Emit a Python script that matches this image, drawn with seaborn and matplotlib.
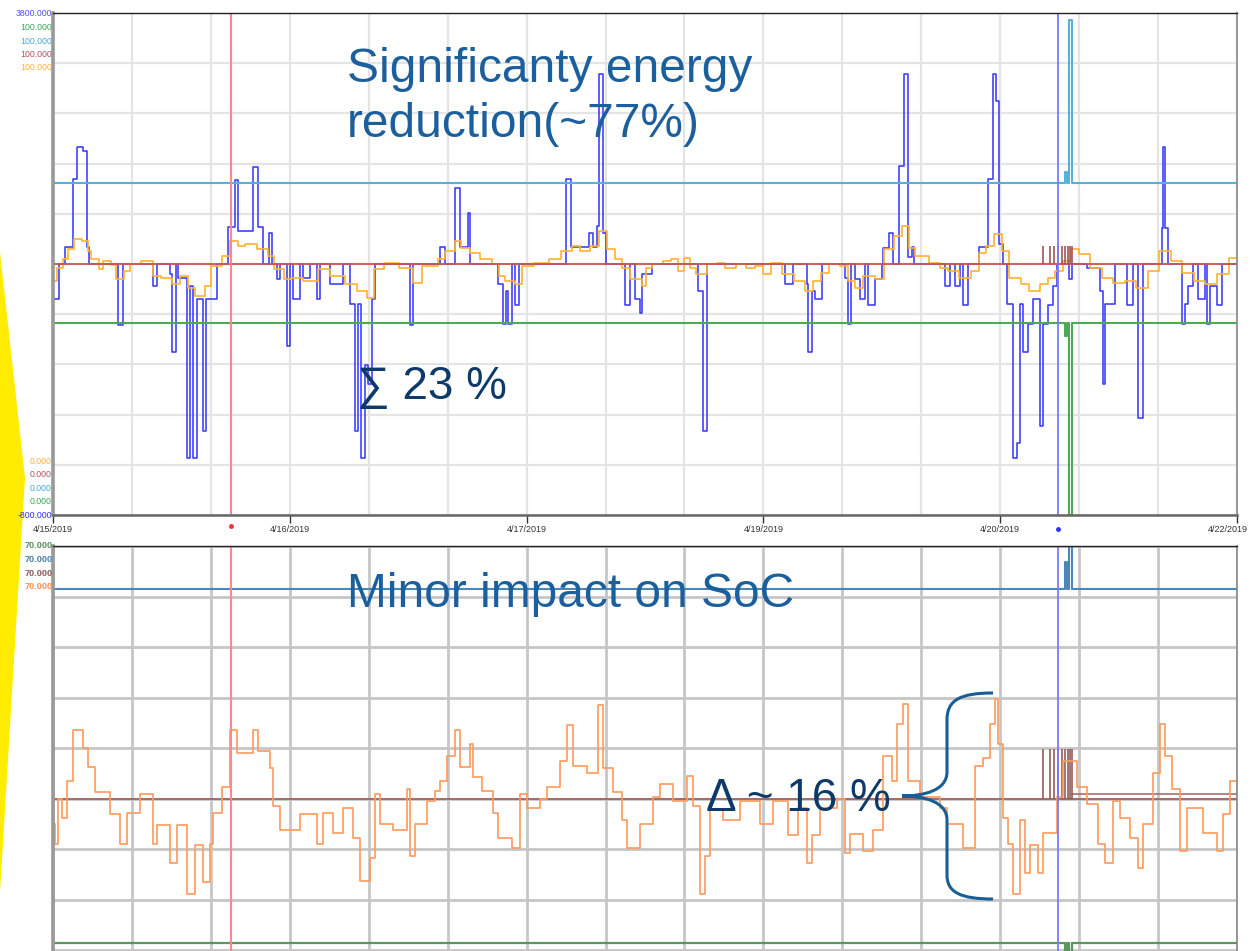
import numpy as np
import pandas as pd
import matplotlib
matplotlib.use("Agg")
import matplotlib.pyplot as plt
import matplotlib.transforms as mtransforms
from matplotlib.patches import Polygon, PathPatch
from matplotlib.path import Path
import seaborn as sns

# ---------------- data (x = hours since 4/15/2019 00:00) ----------------
tick_hours = [0, 33.6, 67.2, 100.8, 134.4, 168]
tick_labels = ["4/15/2019", "4/16/2019", "4/17/2019", "4/19/2019", "4/20/2019", "4/22/2019"]

# blue trace (left scale -800 .. 3800)
blue_h = [0.0, 0.85, 1.7, 2.84, 3.41, 4.26, 4.82, 5.11, 9.22, 9.93,
          14.19, 14.76, 16.6, 16.88, 17.45, 17.74, 19.01, 19.44, 19.86, 20.43,
          21.28, 21.71, 23.27, 24.83, 25.82, 26.25, 28.38, 29.09, 29.8, 30.65,
          31.07, 31.78, 32.21, 33.2, 33.63, 34.05, 35.05, 35.47, 36.46, 37.46,
          37.88, 39.3, 41.15, 42.14, 42.85, 43.27, 43.7, 44.27, 44.69, 45.26,
          45.69, 50.65, 51.08, 54.91, 55.62, 57.04, 57.75, 58.88, 59.17, 63.14,
          63.85, 64.27, 64.56, 65.12, 65.54, 66.12, 72.79, 73.5, 76.05, 76.62,
          77.19, 77.47, 78.04, 78.46, 81.16, 81.87, 82.58, 83.29, 83.57, 85.0,
          91.52, 92.22, 92.79, 103.86, 105.0, 106.98, 107.12, 107.69, 108.12, 109.11,
          112.37, 112.8, 113.22, 113.79, 114.5, 115.21, 115.64, 116.63, 117.62, 117.76,
          118.61, 119.18, 120.03, 120.74, 121.31, 121.88, 122.16, 126.56, 127.27, 127.98,
          128.69, 129.11, 129.82, 131.38, 132.66, 133.37, 133.8, 134.22, 134.79, 135.36,
          136.21, 136.78, 137.2, 137.63, 138.34, 139.05, 140.04, 140.47, 141.17, 141.88,
          142.45, 144.15, 144.58, 146.71, 148.55, 148.98, 149.26, 150.68, 152.38, 153.24,
          153.94, 154.65, 157.35, 157.49, 157.77, 158.2, 160.19, 160.61, 161.04, 161.75,
          162.46, 163.45, 163.74, 164.16, 165.15, 165.86, 168.0]
blue_kw = [1180, 1500, 1660, 2280, 2570, 2540, 1660, 1500, 940, 1500,
           1300, 1500, 1410, 690, 1500, 1370, -280, 1300, -280, 1180,
           -30, 1180, 1500, 1840, 2270, 1800, 2390, 1840, 1500, 1780,
           1500, 1360, 1500, 750, 1500, 1180, 1500, 1370, 1500, 1180,
           1500, 1320, 1500, 1130, -30, 1130, -280, 570, 400, 1180,
           1500, 940, 1500, 1660, 1500, 2200, 1660, 1970, 1500, 1320,
           950, 1250, 950, 1500, 1120, 1500, 2280, 1660, 1780, 1660,
           1850, 3240, 1780, 1500, 1120, 1500, 1180, 1050, 1410, 1500,
           1250, -30, 1500, 1320, 1500, 1320, 690, 1250, 1180, 1500,
           1370, 950, 1500, 1360, 1180, 1500, 1120, 1360, 1500, 1650,
           1780, 1500, 2400, 3240, 1560, 1660, 1500, 1300, 1500, 1300,
           1500, 1120, 1500, 1660, 2280, 3240, 2990, 1680, 1500, 1130,
           -280, -140, 1130, 690, 950, 1180, 20, 950, 1120, 1300,
           1500, 1360, 1500, 1460, 1250, 400, 1130, 1500, 1120, 1500,
           90, 1500, 1830, 2570, 1830, 1500, 950, 1130, 1300, 1500,
           1180, 1500, 950, 1300, 1120, 1500, 1500]

# orange trace, top panel (0 .. 100 scale)
orange_h = [0.0, 0.55, 1.36, 2.18, 3.0, 4.09, 4.91, 5.46, 6.55, 7.1,
            8.19, 9.0, 10.1, 10.92, 12.55, 14.19, 15.28, 16.92, 18.01, 19.1,
            20.2, 21.56, 22.38, 24.02, 25.11, 26.2, 27.29, 28.93, 30.57, 31.39,
            32.75, 33.84, 35.48, 37.66, 39.3, 41.48, 43.12, 44.49, 45.58, 46.94,
            49.13, 51.04, 52.4, 54.59, 55.68, 57.04, 57.86, 59.22, 60.59, 62.23,
            63.32, 64.14, 65.5, 66.59, 68.23, 70.41, 72.05, 73.69, 74.78, 76.15,
            77.51, 78.6, 79.69, 80.79, 81.88, 83.52, 84.11, 84.93, 86.57, 87.66,
            88.75, 89.57, 90.39, 91.2, 92.84, 94.21, 95.3, 96.94, 98.3, 99.67,
            100.76, 101.85, 103.49, 105.12, 106.76, 107.85, 108.95, 110.04, 111.67, 112.77,
            113.86, 114.95, 116.59, 117.95, 119.32, 120.41, 121.5, 122.32, 124.23, 125.87,
            126.96, 128.6, 130.23, 131.33, 132.42, 133.51, 134.6, 135.69, 137.33, 138.42,
            140.06, 141.15, 142.24, 143.33, 144.43, 145.52, 147.16, 148.79, 150.43, 152.07,
            153.71, 155.34, 156.98, 158.62, 160.25, 161.89, 163.53, 165.17, 166.8, 168.0]
orange_pct = [46.6, 49.2, 51.0, 53.0, 55.0, 54.6, 52.6, 51.0, 49.0, 50.6,
              49.8, 47.0, 48.6, 50.0, 50.6, 47.6, 47.2, 46.0, 47.6, 45.2,
              43.6, 45.6, 49.6, 51.6, 54.6, 53.6, 54.0, 53.0, 51.6, 49.0,
              47.0, 47.2, 46.6, 49.0, 47.6, 46.0, 44.6, 43.2, 49.0, 50.2,
              49.2, 46.2, 49.6, 51.0, 52.6, 54.6, 53.2, 52.2, 51.0, 50.0,
              47.6, 46.6, 46.0, 49.6, 50.2, 51.0, 52.6, 53.6, 52.6, 53.6,
              56.6, 53.0, 51.0, 49.2, 47.0, 45.6, 49.2, 50.0, 50.6, 51.0,
              48.6, 51.2, 49.2, 48.0, 50.0, 50.2, 49.2, 50.0, 49.2, 49.6,
              48.0, 50.2, 48.0, 46.6, 44.6, 46.6, 48.2, 50.0, 49.6, 46.6,
              45.2, 47.6, 47.0, 53.0, 55.6, 57.6, 53.2, 51.6, 50.2, 49.2,
              48.6, 47.2, 48.6, 52.2, 53.6, 56.0, 52.6, 47.2, 46.0, 44.6,
              46.0, 47.2, 48.6, 50.6, 53.0, 52.0, 49.2, 47.2, 46.2, 46.6,
              45.2, 48.6, 52.6, 50.6, 48.2, 46.6, 46.0, 48.0, 51.2, 51.2]

# state of charge, bottom panel (%)
soc_h = [0.0, 0.28, 0.71, 1.28, 1.99, 2.84, 4.26, 4.97, 5.96, 8.09,
         9.51, 10.5, 12.34, 14.19, 14.76, 16.6, 17.59, 19.01, 20.15, 21.28,
         22.28, 22.7, 23.98, 25.11, 26.11, 28.38, 29.09, 30.79, 31.21, 32.21,
         35.05, 37.46, 38.31, 39.73, 41.15, 42.57, 43.56, 44.98, 45.69, 46.4,
         48.24, 50.23, 50.65, 51.36, 53.06, 54.2, 54.91, 55.9, 57.04, 57.75,
         59.17, 59.59, 60.87, 62.43, 63.14, 65.12, 66.26, 67.25, 69.1, 70.09,
         71.94, 72.93, 73.78, 75.77, 77.33, 78.04, 79.46, 80.73, 81.44, 83.29,
         85.13, 86.12, 87.97, 89.95, 90.81, 91.8, 92.51, 93.22, 95.06, 97.47,
         100.31, 102.16, 104.28, 105.7, 106.98, 107.69, 108.83, 111.24, 112.37, 113.08,
         114.93, 116.35, 117.76, 119.04, 119.75, 120.6, 121.31, 123.01, 125.85, 126.84,
         129.11, 130.82, 131.95, 132.95, 133.65, 134.08, 134.79, 135.5, 136.21, 137.2,
         137.91, 138.62, 139.76, 140.47, 142.45, 143.3, 145.29, 146.71, 148.27, 149.26,
         150.4, 151.39, 152.81, 153.94, 154.65, 156.07, 157.07, 157.77, 158.77, 159.9,
         160.89, 163.17, 165.15, 166.0, 167.0, 168.0]
soc_pct = [48.0, 46.4, 50.0, 48.5, 51.4, 55.4, 54.0, 52.5, 50.5, 48.8,
           46.4, 48.9, 50.4, 46.4, 47.9, 44.9, 47.9, 42.5, 46.3, 43.4,
           46.4, 48.9, 50.9, 55.4, 53.6, 55.4, 53.8, 52.4, 49.4, 47.5,
           48.8, 46.4, 48.9, 47.3, 49.3, 46.9, 43.5, 45.3, 50.4, 48.0,
           47.5, 50.8, 45.5, 48.0, 49.8, 50.6, 51.4, 53.4, 55.4, 52.5,
           54.3, 51.7, 50.6, 48.9, 46.9, 46.1, 50.4, 49.3, 50.0, 50.9,
           53.0, 55.8, 52.6, 52.0, 57.4, 52.4, 50.5, 48.3, 46.1, 48.0,
           50.1, 51.2, 49.8, 51.8, 49.4, 42.5, 45.5, 49.1, 48.3, 49.8,
           48.0, 49.8, 47.1, 49.3, 44.9, 47.1, 49.3, 50.0, 45.7, 47.2,
           45.9, 47.5, 53.4, 51.4, 55.9, 57.5, 51.4, 50.1, 49.3, 48.0,
           46.1, 52.6, 53.2, 55.9, 57.9, 54.3, 48.5, 46.4, 42.5, 48.3,
           44.1, 46.3, 44.1, 47.3, 50.1, 53.0, 50.9, 49.6, 46.4, 44.9,
           49.8, 48.5, 46.9, 44.5, 48.0, 52.0, 55.9, 53.4, 50.8, 45.9,
           49.3, 47.3, 45.9, 48.8, 51.4, 51.4]

# reference / limit series
ref_h = [0.0, 143.6, 143.9, 144.2, 144.6, 168.0]
top_lightblue = [66.1, 68.3, 66.1, 98.6, 66.1, 66.1]
top_green = [38.2, 35.7, 38.2, 0.0, 38.2, 38.2]
top_red = [50.0, 50.0, 50.0, 50.0, 50.0, 50.0]
bot_blue = [66.6, 68.7, 66.6, 71.0, 66.6, 66.6]
bot_green = [38.6, 37.5, 38.6, 37.5, 38.6, 38.6]
bot_red = [50.0, 50.0, 50.0, 50.0, 50.0, 50.0]
brown_spike_h = [140.5, 141.4, 142.0, 142.6, 143.2, 143.6, 144.0, 144.3, 144.6]
brown_top_peak = 53.6
brown_bot_peak = 53.9
brown_after_h = [144.6, 168.0]
brown_after_soc = [50.4, 50.4]

red_cursor_h = 25.26
blue_cursor_h = 142.6

top_left_labels = [("3800.000", "#5050ff"), ("100.000", "#3aa655"), ("100.000", "#45aadd"),
                   ("100.000", "#b0505e"), ("100.000", "#ffb040")]
bottom_left_labels = [("0.000", "#ffb040"), ("0.000", "#b0505e"), ("0.000", "#45aadd"),
                      ("0.000", "#3aa655"), ("-800.000", "#3030ff")]
soc_labels = [("70.000", "#5f8f5f"), ("70.000", "#4a80aa"), ("70.000", "#8a5a5a"), ("70.000", "#ff9055")]

# ---------------- figure ----------------
sns.set_theme(style="white")
plt.rcParams["font.family"] = ["Liberation Sans", "DejaVu Sans"]

W, H = 1252, 951
fig = plt.figure(figsize=(W / 100, H / 100), dpi=100)
fig.patch.set_facecolor("white")

def fx(px):
    return px / W

def fy(py):
    return 1 - py / H

rect_top = [fx(53), fy(515), fx(1237) - fx(53), fy(13) - fy(515)]
rect_bot = [fx(53), 0.0, fx(1237) - fx(53), fy(546)]

grid_x = np.arange(0, 168.01, 11.2)

# background axes of top panel (grid + blue trace)
ax_bg = fig.add_axes(rect_top, zorder=0)
ax_bg.set_xticks(grid_x)
ax_bg.set_yticks(np.arange(-800, 3801, 460))
ax_bg.grid(True, color="#e4e4e4", lw=1.6)
ax_bg.tick_params(length=0, labelbottom=False, labelleft=False)
for s in ax_bg.spines.values():
    s.set_visible(False)
sns.lineplot(x=blue_h, y=blue_kw, ax=ax_bg, color="#3a3aff", lw=1.15,
             drawstyle="steps-post", estimator=None, legend=False)
ax_bg.set_xlim(0, 168)
ax_bg.set_ylim(-800, 3800)
ax_bg.set_xlabel("")
ax_bg.set_ylabel("")

# foreground axes of top panel
ax1 = fig.add_axes(rect_top, zorder=1)
ax1.patch.set_visible(False)
sns.lineplot(x=ref_h, y=top_lightblue, ax=ax1, color="#55b0dc", lw=1.5,
             drawstyle="steps-post", estimator=None, legend=False)
sns.lineplot(x=ref_h, y=top_green, ax=ax1, color="#4caa55", lw=1.5,
             drawstyle="steps-post", estimator=None, legend=False)
sns.lineplot(x=orange_h, y=orange_pct, ax=ax1, color="#ffb22e", lw=1.2,
             drawstyle="steps-post", estimator=None, legend=False)
sns.lineplot(x=ref_h, y=top_red, ax=ax1, color="#cc5555", lw=1.3,
             drawstyle="steps-post", estimator=None, legend=False)
ax1.vlines(brown_spike_h, 50, brown_top_peak, color="#a05555", lw=1.2)
ax1.axvline(red_cursor_h, color="#ff8888", lw=1.5)
ax1.axvline(blue_cursor_h, color="#7a7aff", lw=1.3)
ax1.plot([red_cursor_h], [-2.2], "o", color="#ff3030", ms=2.5, clip_on=False)
ax1.plot([blue_cursor_h], [-2.8], "o", color="#3030ff", ms=2.5, clip_on=False)
ax1.set_xlim(0, 168)
ax1.set_ylim(0, 100)
ax1.set_xticks(tick_hours)
ax1.set_xticklabels(tick_labels)
ax1.set_yticks([])
ax1.set_xlabel("")
ax1.set_ylabel("")
ax1.tick_params(axis="x", direction="out", length=6, width=1, color="#333333",
                labelsize=6.5, labelcolor="#333333", pad=1.5, bottom=True)
last = ax1.get_xticklabels()[-1]
last.set_transform(last.get_transform() +
                   mtransforms.ScaledTranslation(-9 / 100, 0, fig.dpi_scale_trans))
ax1.spines["top"].set_color("#222222"); ax1.spines["top"].set_linewidth(1.0)
ax1.spines["right"].set_color("#888888"); ax1.spines["right"].set_linewidth(1.2)
ax1.spines["left"].set_color("#999999"); ax1.spines["left"].set_linewidth(2.6)
ax1.spines["bottom"].set_color("#666666"); ax1.spines["bottom"].set_linewidth(1.8)

# bottom panel
ax2 = fig.add_axes(rect_bot, zorder=1)
ax2.set_axisbelow(True)
ax2.set_xticks(grid_x)
ax2.set_yticks(np.arange(38, 70.1, 4))
ax2.grid(True, color="#c6c6c6", lw=2.0)
ax2.tick_params(length=0, labelbottom=False, labelleft=False)
sns.lineplot(x=ref_h, y=bot_blue, ax=ax2, color="#4a86b8", lw=1.5,
             drawstyle="steps-post", estimator=None, legend=False)
sns.lineplot(x=ref_h, y=bot_green, ax=ax2, color="#5f935f", lw=1.6,
             drawstyle="steps-post", estimator=None, legend=False)
sns.lineplot(x=ref_h, y=bot_red, ax=ax2, color="#a05a5a", lw=1.2,
             drawstyle="steps-post", estimator=None, legend=False)
sns.lineplot(x=brown_after_h, y=brown_after_soc, ax=ax2, color="#a57070", lw=1.2,
             estimator=None, legend=False)
ax2.vlines(brown_spike_h, 50, brown_bot_peak, color="#8a5050", lw=1.1)
sns.lineplot(x=soc_h, y=soc_pct, ax=ax2, color="#ff9a5a", lw=1.2,
             drawstyle="steps-post", estimator=None, legend=False)
ax2.axvline(red_cursor_h, color="#ff8888", lw=1.5)
ax2.axvline(blue_cursor_h, color="#7a7aff", lw=1.3)
ax2.set_xlim(0, 168)
ax2.set_ylim(37.95, 70)
ax2.set_xlabel("")
ax2.set_ylabel("")
ax2.spines["top"].set_color("#222222"); ax2.spines["top"].set_linewidth(1.0)
ax2.spines["right"].set_color("#888888"); ax2.spines["right"].set_linewidth(1.2)
ax2.spines["left"].set_color("#999999"); ax2.spines["left"].set_linewidth(2.6)
ax2.spines["bottom"].set_visible(False)

# stacked axis labels
for i, (t, c) in enumerate(top_left_labels):
    fig.text(fx(52), fy(14 + i * 13.5), t, color=c, fontsize=6.3, ha="right", va="center")
for i, (t, c) in enumerate(bottom_left_labels):
    fig.text(fx(52), fy(461 + i * 13.6), t, color=c, fontsize=6.3, ha="right", va="center")
for i, (t, c) in enumerate(soc_labels):
    fig.text(fx(53), fy(546 + i * 13.5), t, color=c, fontsize=6.6, ha="right", va="center",
             fontweight="bold")

# yellow arrow shape on the left edge
fig.add_artist(Polygon([(fx(0), fy(252)), (fx(25), fy(478)), (fx(0), fy(892))],
                       closed=True, transform=fig.transFigure, facecolor="#ffec00",
                       edgecolor="none", zorder=0.5))

# annotations
head_c = "#1b5f9c"
dark_c = "#0d3a68"
fig.text(fx(347), fy(82), "Significanty energy", fontsize=34.5, color=head_c, va="baseline", zorder=5)
fig.text(fx(347), fy(137), "reduction(~77%)", fontsize=34.5, color=head_c, va="baseline", zorder=5)
fig.text(fx(357), fy(399), "\u2211 23 %", fontsize=33, color=dark_c, va="baseline", zorder=5)
fig.text(fx(347), fy(607), "Minor impact on SoC", fontsize=34.5, color=head_c, va="baseline", zorder=5)
fig.text(fx(706), fy(811), "\u0394 ~ 16 %", fontsize=33, color=dark_c, va="baseline", zorder=5)

# curly brace
pix = mtransforms.Affine2D().scale(1 / W, -1 / H).translate(0, 1) + fig.transFigure
verts = [(993, 693), (960, 693), (947, 700), (947, 720),
         (947, 772),
         (947, 790), (925, 796), (902, 796),
         (925, 796), (947, 802), (947, 820),
         (947, 875),
         (947, 892), (960, 899), (993, 899)]
codes = [Path.MOVETO, Path.CURVE4, Path.CURVE4, Path.CURVE4,
         Path.LINETO,
         Path.CURVE4, Path.CURVE4, Path.CURVE4,
         Path.CURVE4, Path.CURVE4, Path.CURVE4,
         Path.LINETO,
         Path.CURVE4, Path.CURVE4, Path.CURVE4]
fig.add_artist(PathPatch(Path(verts, codes), transform=pix, facecolor="none",
                         edgecolor="#1a5e96", lw=2.2, zorder=6))

fig.savefig("out.png", dpi=100, facecolor="white")
